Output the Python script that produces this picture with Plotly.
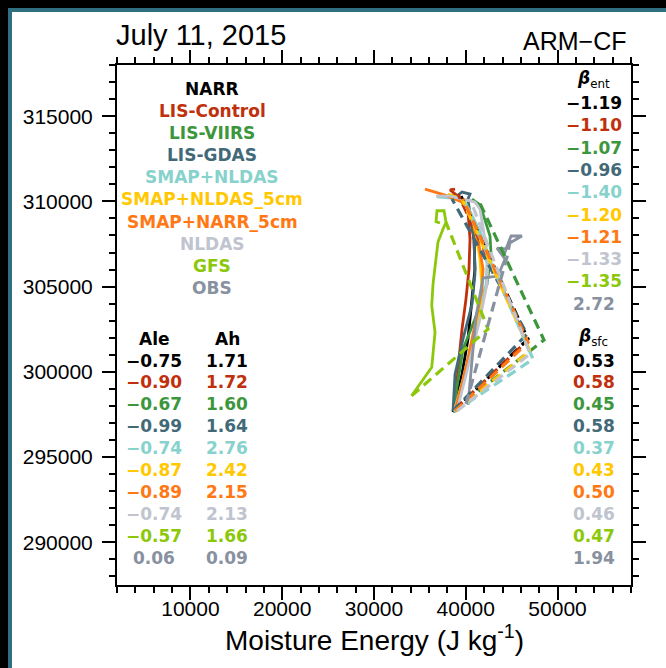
import plotly.graph_objects as go

# ---- model names, colours and statistics --------------------------------
models = ["NARR", "LIS-Control", "LIS-VIIRS", "LIS-GDAS", "SMAP+NLDAS",
          "SMAP+NLDAS_5cm", "SMAP+NARR_5cm", "NLDAS", "GFS", "OBS"]
colors = ["#000000", "#c0300c", "#3c963c", "#416978", "#87d2cd",
          "#ffc800", "#ff7814", "#c0c4ce", "#8cc80a", "#8791a0"]
ale = [-0.75, -0.90, -0.67, -0.99, -0.74, -0.87, -0.89, -0.74, -0.57, 0.06]
ah = [1.71, 1.72, 1.60, 1.64, 2.76, 2.42, 2.15, 2.13, 1.66, 0.09]
beta_ent = [-1.19, -1.10, -1.07, -0.96, -1.40, -1.20, -1.21, -1.33, -1.35, 2.72]
beta_sfc = [0.53, 0.58, 0.45, 0.58, 0.37, 0.43, 0.50, 0.46, 0.47, 1.94]

# ---- daytime trajectories: moisture energy (Lv q) vs sensible energy (cp T), J/kg
traj_x = {
    "NARR": [38610, 39590, 40240, 40680, 41000, 40900, 40460, 39590, 38500],
    "LIS-Control": [38830, 39150, 39590, 40020, 40350, 40460, 40240, 39150, 38280, 38830],
    "LIS-VIIRS": [38610, 39150, 39700, 41000, 42310, 42750, 42640, 41990, 41550, 40680],
    "LIS-GDAS": [38610, 38830, 39700, 40680, 41000, 40900, 40460, 40240, 40460, 39590, 38930],
    "SMAP+NLDAS": [38720, 39700, 40460, 41330, 42200, 42310, 41660, 40460, 39700, 36860],
    "SMAP+NLDAS_5cm": [38830, 39590, 40460, 41330, 41770, 41550, 41110, 40460, 39590, 38060],
    "SMAP+NARR_5cm": [38830, 39590, 40350, 41110, 41770, 41880, 41330, 40460, 39590, 37740, 35560],
    "NLDAS": [39040, 39910, 40790, 41550, 42310, 42420, 41990, 41550, 41000, 38280, 36760],
    "GFS": [34100, 36290, 36650, 36290, 36430, 36650, 36970, 37520, 37850, 37630, 36860, 36760, 37190],
    "OBS": [40240, 40460, 40790, 41110, 41660, 41880, 43510, 44270, 43400, 44380, 44930, 46120, 44600, 44160],
}
traj_y = {
    "NARR": [297650, 299870, 301930, 304270, 306030, 307790, 309260, 310140, 310370],
    "LIS-Control": [297820, 300170, 302510, 304270, 306030, 307790, 309430, 310310, 310670, 310720],
    "LIS-VIIRS": [297710, 299580, 301340, 303100, 305150, 306910, 307970, 309080, 309790, 310140],
    "LIS-GDAS": [297710, 299870, 301930, 303980, 305740, 307790, 309260, 310140, 310430, 310550, 310260],
    "SMAP+NLDAS": [297650, 299580, 301340, 303100, 305030, 306330, 308090, 309430, 310140, 310260],
    "SMAP+NLDAS_5cm": [297710, 299290, 301050, 303100, 304860, 306620, 308090, 309260, 310140, 310430],
    "SMAP+NARR_5cm": [297710, 299290, 301050, 303100, 304860, 306030, 307790, 309080, 309960, 310370, 310720],
    "NLDAS": [297710, 299580, 301340, 303100, 305150, 306620, 308090, 309550, 309960, 310310, 310310],
    "GFS": [298600, 300270, 302320, 303880, 305150, 306030, 307620, 308380, 308770, 309450, 309450, 308810, 308730],
    "OBS": [298060, 299580, 301340, 303220, 304860, 305500, 305620, 306620, 307260, 307210, 307970, 307970, 307500, 306850],
}

# ---- flux vectors: start -> start + V_sfc -> end (V_ent) ------------------
vec_x = {
    "NARR": [38610, 46780, 39480],
    "LIS-Control": [38830, 46670, 39150],
    "LIS-VIIRS": [38610, 48520, 41330],
    "LIS-GDAS": [38610, 46670, 38500],
    "SMAP+NLDAS": [38720, 47330, 39700],
    "SMAP+NLDAS_5cm": [38830, 47000, 39590],
    "SMAP+NARR_5cm": [38830, 46780, 39700],
    "NLDAS": [39040, 47000, 40460],
    "GFS": [34100, 42420, 37850],
    "OBS": [40020, 44490, 44930],
}
vec_y = {
    "NARR": [297650, 301930, 310310],
    "LIS-Control": [297820, 301810, 310430],
    "LIS-VIIRS": [297710, 301870, 310140],
    "LIS-GDAS": [297710, 302220, 310140],
    "SMAP+NLDAS": [297650, 300750, 310140],
    "SMAP+NLDAS_5cm": [297710, 301220, 310140],
    "SMAP+NARR_5cm": [297710, 301730, 310140],
    "NLDAS": [297710, 301050, 310140],
    "GFS": [298600, 302510, 308770],
    "OBS": [298120, 306740, 307970],
}

x_ticks = [10000, 20000, 30000, 40000, 50000]
y_ticks = [290000, 295000, 300000, 305000, 310000, 315000]
x_range = [2000, 58000]
y_range = [287500, 318000]

fig = go.Figure()

for m, c in zip(models, colors):
    fig.add_trace(go.Scatter(x=traj_x[m], y=traj_y[m], mode="lines",
                             line=dict(color=c, width=2.8), showlegend=False,
                             hoverinfo="skip"))
for m, c in zip(models, colors):
    fig.add_trace(go.Scatter(x=vec_x[m], y=vec_y[m], mode="lines",
                             line=dict(color=c, width=3.2, dash="10px,6px"),
                             showlegend=False, hoverinfo="skip"))

# ---- page geometry (pixels) ------------------------------------------------
W, H = 666, 668
L, R, T, B = 117, 631, 65, 585


def px(x):
    return (x - L) / (R - L)


def py(y):
    return (B - y) / (B - T)


def minus(v):
    return ("\u2212" if v < 0 else "") + f"{abs(v):.2f}"


anns = []


def label(text, x, y, color="#000000", size=17, xanchor="center",
          family="DejaVu Sans", yanchor="middle"):
    anns.append(dict(text=text, x=px(x), y=py(y), xref="paper", yref="paper",
                     xanchor=xanchor, yanchor=yanchor, showarrow=False,
                     font=dict(family=family, size=size, color=color)))


# header texts
label("July 11, 2015", 114, 35, size=29, xanchor="left", family="Liberation Sans")
label("ARM\u2212CF", 628, 41, size=25, xanchor="right", family="Liberation Sans")
label("Moisture Energy (J kg<sup>-1</sup>)", 374, 638, size=28,
      family="Liberation Sans")

# model names
for i, (m, c) in enumerate(zip(models, colors)):
    label(f"<b>{m}</b>", 212, 89 + 22.1 * i, c)

# Ale / Ah columns
label("<b>Ale</b>", 154, 339)
label("<b>Ah</b>", 227, 339)
for i, c in enumerate(colors):
    yy = 360.5 + 21.95 * i
    label(f"<b>{minus(ale[i])}</b>", 154, yy, c)
    label(f"<b>{ah[i]:.2f}</b>", 227, yy, c)

# beta columns (headers anchored by their bottom edge above the first row)
label("<b><i>\u03b2</i></b><sub>ent</sub>", 593, 93, yanchor="bottom")
for i, c in enumerate(colors):
    label(f"<b>{minus(beta_ent[i])}</b>", 594, 103 + 22.3 * i, c)
label("<b><i>\u03b2</i></b><sub>sfc</sub>", 593, 351, yanchor="bottom")
for i, c in enumerate(colors):
    label(f"<b>{minus(beta_sfc[i])}</b>", 594, 360.5 + 21.95 * i, c)

# window frame around the figure
shapes = [
    dict(type="rect", xref="paper", yref="paper", x0=px(0), x1=px(W),
         y0=py(8), y1=py(0), fillcolor="#000000", line_width=0, layer="above"),
    dict(type="rect", xref="paper", yref="paper", x0=px(0), x1=px(8),
         y0=py(H), y1=py(0), fillcolor="#000000", line_width=0, layer="above"),
    dict(type="rect", xref="paper", yref="paper", x0=px(8), x1=px(W),
         y0=py(12), y1=py(8), fillcolor="#2f6f80", line_width=0, layer="above"),
    dict(type="rect", xref="paper", yref="paper", x0=px(8), x1=px(12),
         y0=py(H), y1=py(8), fillcolor="#2f6f80", line_width=0, layer="above"),
]

axis_common = dict(showline=True, linecolor="#000000", linewidth=2,
                   mirror="allticks", ticks="outside", tickcolor="#000000",
                   tickwidth=2, ticklen=13, showgrid=False, zeroline=False,
                   tickfont=dict(family="Liberation Sans", size=21, color="#000000"))

fig.update_layout(
    width=W, height=H,
    margin=dict(l=L, r=W - R, t=T, b=H - B, pad=0),
    paper_bgcolor="#ffffff", plot_bgcolor="#ffffff",
    showlegend=False,
    annotations=anns,
    shapes=shapes,
    xaxis=dict(range=x_range, tickvals=x_ticks, tickformat="d",
               ticklabelstandoff=-9,
               minor=dict(dtick=2000, tick0=0, ticks="outside", ticklen=6,
                          tickwidth=1.5, tickcolor="#000000"),
               **axis_common),
    yaxis=dict(range=y_range, tickvals=y_ticks, tickformat="d",
               ticklabelstandoff=5,
               minor=dict(dtick=1000, tick0=0, ticks="outside", ticklen=6,
                          tickwidth=1.5, tickcolor="#000000"),
               **axis_common),
)

fig.write_html("out.html")
